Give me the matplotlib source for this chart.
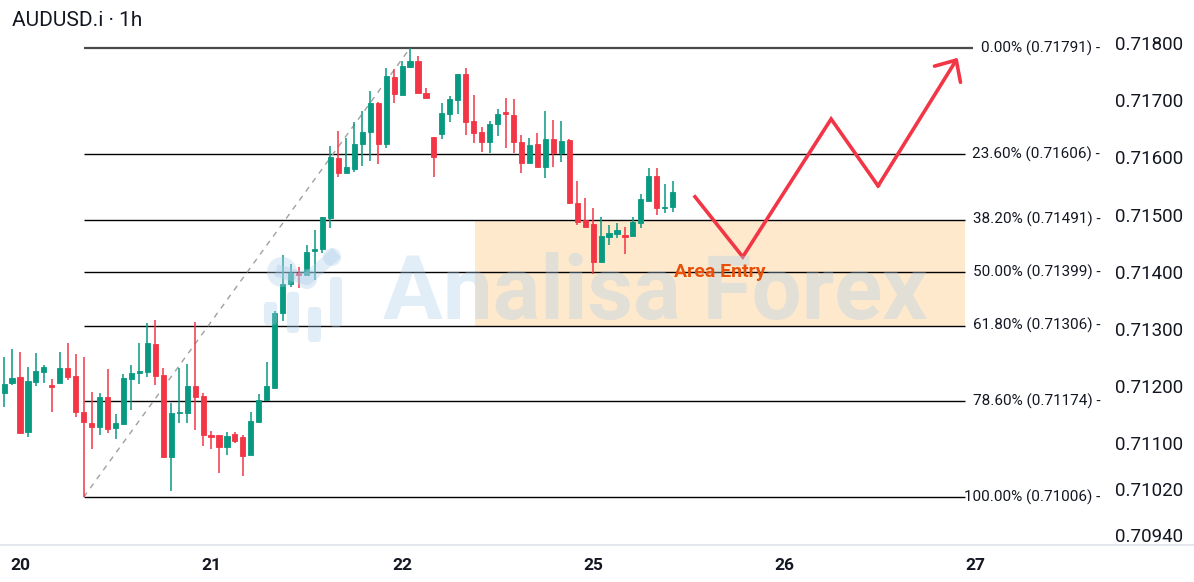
import matplotlib
matplotlib.use('Agg')
import matplotlib.pyplot as plt
from matplotlib.patches import Rectangle, Circle, FancyBboxPatch
from matplotlib.lines import Line2D
from matplotlib.transforms import Affine2D

plt.rcParams['font.family'] = ['Roboto', 'DejaVu Sans']

# hourly candles AUDUSD.i, index 0 = 20th 00:00
opens = [0.71188, 0.71205, 0.71216, 0.71120, 0.71207, 0.71225, 0.71202, 0.71205, 0.71232, 0.71218,
         0.71155, 0.71136, 0.71129, 0.71181, 0.71127, 0.71134, 0.71212, 0.71223, 0.71225, 0.71274,
         0.71219, 0.71076, 0.71153, 0.71153, 0.71200, 0.71183, 0.71115, 0.71115, 0.71094, 0.71116,
         0.71111, 0.71080, 0.71137, 0.71176, 0.71197, 0.71328, 0.71379, 0.71398, 0.71394, 0.71436,
         0.71440, 0.71494, 0.71599, 0.71573, 0.71580, 0.71623, 0.71644, 0.71695, 0.71623, 0.71740,
         0.71709, 0.71758, 0.71768, 0.71712, 0.71635, 0.71641, 0.71676, 0.71700, 0.71746, 0.71663,
         0.71644, 0.71627, 0.71658, 0.71677, 0.71674, 0.71627, 0.71590, 0.71623, 0.71583, 0.71632,
         0.71608, 0.71630, 0.71520, 0.71490, 0.71483, 0.71417, 0.71461, 0.71466, 0.71462, 0.71462,
         0.71485, 0.71524, 0.71567, 0.71511, 0.71513]
highs = [0.71251, 0.71265, 0.71260, 0.71233, 0.71258, 0.71237, 0.71212, 0.71260, 0.71275, 0.71256,
         0.71251, 0.71190, 0.71188, 0.71230, 0.71151, 0.71221, 0.71237, 0.71275, 0.71310, 0.71316,
         0.71232, 0.71171, 0.71232, 0.71239, 0.71312, 0.71188, 0.71122, 0.71115, 0.71120, 0.71120,
         0.71115, 0.71155, 0.71186, 0.71242, 0.71331, 0.71429, 0.71414, 0.71408, 0.71447, 0.71473,
         0.71496, 0.71620, 0.71646, 0.71634, 0.71662, 0.71681, 0.71716, 0.71697, 0.71756, 0.71754,
         0.71768, 0.71791, 0.71777, 0.71721, 0.71635, 0.71695, 0.71707, 0.71746, 0.71756, 0.71709,
         0.71653, 0.71663, 0.71684, 0.71704, 0.71702, 0.71639, 0.71634, 0.71642, 0.71681, 0.71665,
         0.71663, 0.71632, 0.71559, 0.71529, 0.71511, 0.71496, 0.71482, 0.71485, 0.71478, 0.71496,
         0.71536, 0.71581, 0.71581, 0.71553, 0.71559]
lows = [0.71164, 0.71202, 0.71118, 0.71111, 0.71200, 0.71205, 0.71155, 0.71205, 0.71211, 0.71146,
        0.71006, 0.71090, 0.71115, 0.71118, 0.71108, 0.71132, 0.71158, 0.71204, 0.71216, 0.71202,
        0.71074, 0.71017, 0.71136, 0.71136, 0.71123, 0.71095, 0.71090, 0.71048, 0.71080, 0.71101,
        0.71043, 0.71080, 0.71137, 0.71176, 0.71197, 0.71314, 0.71373, 0.71372, 0.71394, 0.71386,
        0.71433, 0.71476, 0.71566, 0.71573, 0.71574, 0.71585, 0.71594, 0.71588, 0.71616, 0.71695,
        0.71709, 0.71756, 0.71712, 0.71704, 0.71566, 0.71632, 0.71662, 0.71676, 0.71639, 0.71625,
        0.71609, 0.71608, 0.71637, 0.71616, 0.71608, 0.71573, 0.71590, 0.71583, 0.71564, 0.71583,
        0.71592, 0.71518, 0.71482, 0.71478, 0.71396, 0.71417, 0.71447, 0.71459, 0.71431, 0.71462,
        0.71476, 0.71524, 0.71499, 0.71503, 0.71504]
closes = [0.71204, 0.71214, 0.71118, 0.71209, 0.71226, 0.71233, 0.71198, 0.71232, 0.71216, 0.71155,
          0.71137, 0.71129, 0.71181, 0.71125, 0.71136, 0.71214, 0.71223, 0.71226, 0.71275, 0.71218,
          0.71076, 0.71153, 0.71155, 0.71200, 0.71181, 0.71115, 0.71111, 0.71094, 0.71113, 0.71104,
          0.71078, 0.71139, 0.71176, 0.71200, 0.71328, 0.71379, 0.71398, 0.71394, 0.71435, 0.71440,
          0.71496, 0.71601, 0.71573, 0.71583, 0.71623, 0.71644, 0.71695, 0.71623, 0.71742, 0.71711,
          0.71760, 0.71768, 0.71712, 0.71704, 0.71601, 0.71677, 0.71702, 0.71746, 0.71662, 0.71642,
          0.71627, 0.71658, 0.71676, 0.71676, 0.71627, 0.71590, 0.71621, 0.71583, 0.71632, 0.71608,
          0.71628, 0.71520, 0.71487, 0.71478, 0.71417, 0.71462, 0.71468, 0.71473, 0.71461, 0.71487,
          0.71527, 0.71567, 0.71511, 0.71513, 0.71539]
first_index = -2

day_ticks = [0, 24, 48, 72, 96, 120]
day_labels = ['20', '21', '22', '25', '26', '27']

price_ticks = [0.71800, 0.71700, 0.71600, 0.71500, 0.71400, 0.71300, 0.71200, 0.71100, 0.71020, 0.70940]

fib_ratios = [0.0, 23.6, 38.2, 50.0, 61.8, 78.6, 100.0]
fib_levels = [0.71791, 0.71606, 0.71491, 0.71399, 0.71306, 0.71174, 0.71006]

# projected path (bar index, price)
path_x = [84.8, 90.8, 101.9, 107.8, 117.8]
path_y = [0.71531, 0.71426, 0.71667, 0.71550, 0.71774]

GREEN = '#089981'
RED = '#F23645'
TXT = '#131722'

W, H = 1194, 582
fig = plt.figure(figsize=(W / 100, H / 100), dpi=100)
ax = fig.add_axes([0, 1 - 545 / H, 1105 / W, 545 / H])
ax.set_xlim(-20 / 7.96, (1105 - 20) / 7.96)
ax.set_ylim(0.709223, 0.71875)
for s in ax.spines.values():
    s.set_visible(False)

# entry zone
ax.add_patch(Rectangle((57.2, fib_levels[4]), 118.7 - 57.2, fib_levels[2] - fib_levels[4],
                       facecolor='#FFE9CC', edgecolor='none', zorder=0.5))

# fib levels
for r, lv in zip(fib_ratios, fib_levels):
    if r == 0:
        ax.hlines(lv, 8, 119.7, color='#4a4a4a', lw=1.6, zorder=1)
    else:
        ax.hlines(lv, 8, 118.7, color='black', lw=1.0, zorder=1)
    ax.text(135.7, lv, f'{r:.2f}% ({lv:.5f}) -', ha='right', va='center',
            fontsize=11, color=TXT)

ax.plot([8, 49], [fib_levels[-1], fib_levels[0]], color='#a0a0a0', lw=1,
        ls=(0, (4, 4)), zorder=1)

# candles
for k, (o, h, l, c) in enumerate(zip(opens, highs, lows, closes)):
    x = first_index + k
    col = GREEN if c >= o else RED
    ax.vlines(x, l, h, color=col, lw=1.1, zorder=3)
    ax.add_patch(Rectangle((x - 0.32, min(o, c)), 0.64, max(abs(c - o), 0.000025),
                           facecolor=col, edgecolor=col, lw=0.6, zorder=4))

ax.plot(path_x[:-1], path_y[:-1], color=RED, lw=2.6, solid_joinstyle='miter', zorder=5)
ax.annotate('', xy=(path_x[-1], path_y[-1]), xytext=(path_x[-2], path_y[-2]),
            arrowprops=dict(arrowstyle='->,head_length=1.2,head_width=1.1', color=RED,
                            lw=2.6, shrinkA=0, shrinkB=0), zorder=5)

ax.yaxis.tick_right()
ax.set_yticks(price_ticks)
ax.set_yticklabels([f'{p:.5f}' for p in price_ticks])
ax.tick_params(axis='y', length=0, pad=7, labelsize=13.5, labelcolor=TXT)
ax.set_xticks(day_ticks)
ax.set_xticklabels(day_labels, fontweight='bold')
ax.tick_params(axis='x', length=0, pad=9, labelsize=12.5, labelcolor=TXT)

# pixel space decorations
px = Affine2D().scale(1, -1).translate(0, H)
fig.add_artist(Line2D([0, W], [545, 545], color='#E0E3EB', lw=1.2, transform=px))
fig.text(12 / W, 1 - 20 / H, 'AUDUSD.i \u00b7 1h', fontsize=15, va='center', color=TXT)

wm = '#A9CDEA'
for bx, by, bw, bh in [(264, 302, 13, 23), (287, 292, 12, 41), (308, 307, 13, 35), (330, 277, 12, 50)]:
    fig.add_artist(FancyBboxPatch((bx, by), bw, bh, boxstyle='round,pad=0,rounding_size=4',
                                  transform=px, facecolor=wm, edgecolor='none', alpha=0.35, zorder=6))
fig.add_artist(Line2D([282, 307, 332], [272, 279, 257], color=wm, lw=9, alpha=0.35,
                      transform=px, zorder=6))
for cx, cy, r in [(282, 272, 15), (307, 279, 10), (332, 257, 9)]:
    fig.add_artist(Circle((cx, cy), r, transform=px, facecolor=wm, edgecolor='none',
                          alpha=0.35, zorder=6))
fig.text(655 / W, 1 - 294 / H, 'Analisa Forex', fontsize=64, fontweight='bold', color=wm,
         alpha=0.35, ha='center', va='center', zorder=6)

# zone label sits above the watermark as in the original
fig.text(720 / W, 1 - 272 / H, 'Area Entry', ha='center', va='center', fontsize=14,
         fontweight='bold', color='#E8500A', zorder=7)

fig.savefig('out.png', dpi=100, facecolor='white')
